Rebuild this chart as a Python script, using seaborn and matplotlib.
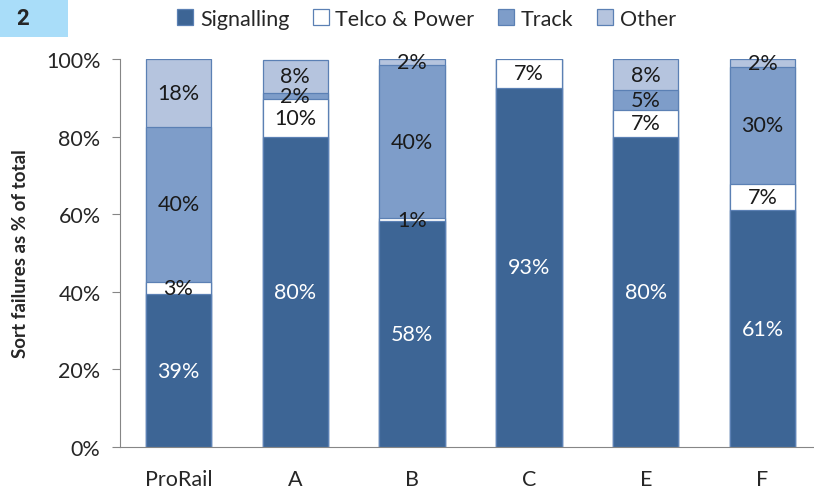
import numpy as np
import pandas as pd
import matplotlib
matplotlib.use("Agg")
import matplotlib.pyplot as plt
import seaborn as sns
from matplotlib.patches import Patch

# datos (porcentaje del total)
categorias = ["ProRail", "A", "B", "C", "E", "F"]
signalling = [39.4, 79.8, 58.2, 92.6, 80.0, 61.0]
telco_power = [3.2, 9.8, 0.8, 7.4, 7.0, 6.8]
track = [39.9, 1.8, 39.5, 0.0, 5.0, 30.2]
other = [17.5, 8.4, 1.5, 0.0, 8.0, 2.0]
series = ["Signalling", "Telco & Power", "Track", "Other"]
colores = ["#3D6595", "#FFFFFF", "#7E9DC9", "#B5C4DE"]
color_borde = "#5B80B4"

sns.set_style("white")
plt.rcParams["font.family"] = ["Lato", "DejaVu Sans"]

df = pd.DataFrame({"categoria": categorias, "Signalling": signalling,
                   "Telco & Power": telco_power, "Track": track, "Other": other})
acumulado = df[series].cumsum(axis=1)

fig = plt.figure(figsize=(8.14, 4.89), dpi=100)
ax = fig.add_axes([0.1474, 0.0838, 0.8526, 0.7932])

# barras apiladas: se dibuja de arriba hacia abajo con los acumulados
for serie, color in reversed(list(zip(series, colores))):
    tmp = pd.DataFrame({"categoria": categorias, "valor": acumulado[serie].values})
    sns.barplot(data=tmp, x="categoria", y="valor", color=color, saturation=1,
                width=0.56, edgecolor=color_borde, linewidth=0.9, ax=ax)

# etiquetas en el centro de cada tramo
for i in range(len(categorias)):
    base = 0
    for serie in series:
        v = df[serie].iloc[i]
        if v > 0:
            txt_color = "white" if serie == "Signalling" else "#1a1a1a"
            ax.text(i, base + v / 2, f"{v:.0f}%", ha="center", va="center",
                    fontsize=15.5, color=txt_color)
        base += v

ax.set_ylim(0, 100)
ax.set_xlim(-0.5, 5.44)
ax.set_yticks(np.arange(0, 101, 20))
ax.set_yticklabels([f"{t}%" for t in range(0, 101, 20)], fontsize=15.5)
ax.set_xticks(range(len(categorias)))
ax.set_xticklabels(categorias, fontsize=15.5)
ax.set_xticks(np.arange(-0.5, 5.5, 1), minor=True)
ax.tick_params(axis="x", which="major", length=0, pad=16)
ax.tick_params(axis="x", which="minor", length=6, color="#868686", direction="out")
ax.tick_params(axis="y", length=6, color="#868686", direction="out", left=True, pad=8)
ax.set_xlabel("")
ax.set_ylabel("Sort failures as % of total", fontsize=13.5, fontweight="bold", labelpad=12)
for lado in ["top", "right"]:
    ax.spines[lado].set_visible(False)
for lado in ["left", "bottom"]:
    ax.spines[lado].set_color("#868686")

handles = [Patch(facecolor=c, edgecolor=color_borde, linewidth=0.9) for c in colores]
fig.legend(handles, series, loc="upper center", bbox_to_anchor=(0.524, 1.02), ncol=4,
           frameon=False, fontsize=15.5, handlelength=0.75, handleheight=0.75,
           handletextpad=0.3, columnspacing=1.1)

# recuadro con el numero
fig.patches.append(plt.Rectangle((0, 1 - 38 / 489), 68 / 814, 38 / 489,
                                 transform=fig.transFigure, facecolor="#A9DDF9",
                                 edgecolor="none"))
fig.text(23 / 814, 1 - 19 / 489, "2", fontsize=16, fontweight="bold",
         family=["Roboto", "DejaVu Sans"], ha="center", va="center")

fig.savefig("out.png", dpi=100)
